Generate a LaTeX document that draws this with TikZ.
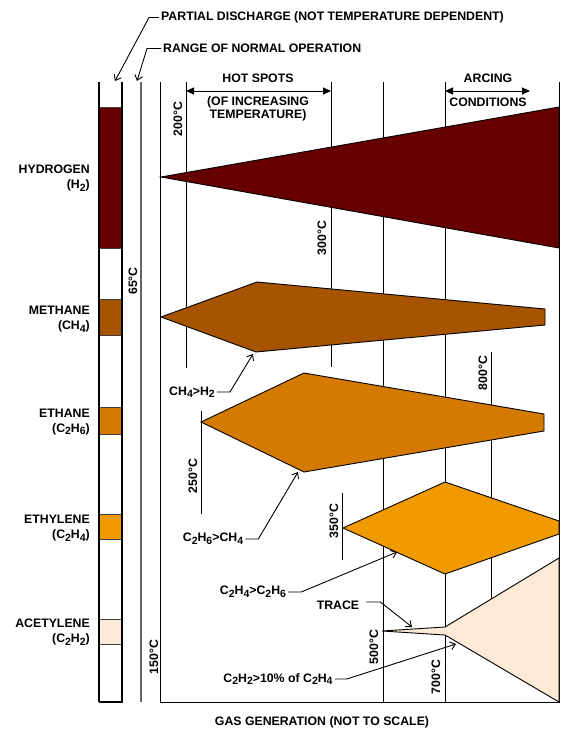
\documentclass[tikz,border=0pt]{standalone}
\usepackage{fontspec}
\setmainfont{Liberation Sans}
\usepackage{tikz}
\usetikzlibrary{arrows.meta}

\definecolor{hydro}{HTML}{660000}
\definecolor{meth}{HTML}{A65400}
\definecolor{eth}{HTML}{D47A00}
\definecolor{ethy}{HTML}{F09A00}
\definecolor{acet}{HTML}{FCE9D6}
\newcommand{\dn}[1]{\raisebox{-0.4ex}{\fontsize{10.5}{12}\selectfont #1}}

\begin{document}
\begin{tikzpicture}[x=1pt,y=-1pt,>={Straight Barb[length=5pt,width=8pt]},
		every node/.style={font=\bfseries\fontsize{12.3}{15}\selectfont,inner sep=2pt},
		gas/.style={anchor=east,align=right},
		temp/.style={rotate=90},
		lead/.style={->,line width=0.9pt},
		span/.style={{Triangle[length=8pt,width=7pt]}-{Triangle[length=8pt,width=7pt]},line width=0.9pt},
		shp/.style={draw=black,line width=0.9pt},
		grid/.style={line width=1pt}]
	\useasboundingbox (0,0) rectangle (563,729);

	% the bar on the left
	\fill[hydro] (99,107) rectangle (122,248);
	\fill[meth]  (99,299) rectangle (122,335);
	\fill[eth]   (99,407) rectangle (122,434);
	\fill[ethy]  (99,514) rectangle (122,539);
	\fill[acet]  (99,619) rectangle (122,644);
	\foreach \y in {107,248,299,335,407,434,514,539,619,644}
		\draw[black!75,line width=1pt] (99,\y) -- (122,\y);
	\draw[line width=2pt] (99,82) -- (99,702);
	\draw[line width=1.2pt] (99,702) -- (122,702) -- (122,82);
	\draw[black!60,line width=1.5pt] (141,82) -- (141,702);

	% axes and temperature lines
	\draw[grid] (160,82) -- (160,702) -- (559,702) -- (559,82);
	\draw[grid] (186,82) -- (186,368);
	\draw[grid] (331,82) -- (331,367);
	\draw[grid] (383,82) -- (383,702);
	\draw[grid] (445,82) -- (445,702);
	\draw[grid] (201,411) -- (201,514);
	\draw[grid] (342,493) -- (342,560);
	\draw[grid] (491,352) -- (491,620);

	% gas shapes
	\filldraw[shp,fill=hydro] (161,177) -- (559,107) -- (559,248) -- cycle;
	\filldraw[shp,fill=meth]  (161,317) -- (257,282) -- (545,309) -- (545,325) -- (256,352) -- cycle;
	\filldraw[shp,fill=eth]   (201,422) -- (304,373) -- (544,414) -- (544,431) -- (304,472) -- cycle;
	\filldraw[shp,fill=ethy]  (343,528) -- (445,482) -- (559,521) -- (559,534) -- (445,574) -- cycle;
	\filldraw[shp,fill=acet]  (382,631) -- (445,627) -- (559,558) -- (559,702) -- (445,635) -- cycle;

	% gases
	\node[gas] (h2)   at (92,178) {HYDROGEN\\(H\dn{2})};
	\node[gas] (ch4)  at (92,319) {METHANE\\(CH\dn{4})};
	\node[gas] (c2h6) at (92,422) {ETHANE\\(C\dn{2}H\dn{6})};
	\node[gas] (c2h4) at (92,528) {ETHYLENE\\(C\dn{2}H\dn{4})};
	\node[gas] (c2h2) at (92,632) {ACETYLENE\\(C\dn{2}H\dn{2})};

	% temperatures
	\node[temp] (t65)  at (133,281) {65°C};
	\node[temp] (t150) at (154,657) {150°C};
	\node[temp] (t200) at (178,119) {200°C};
	\node[temp] (t250) at (193,476) {250°C};
	\node[temp] (t300) at (322,238) {300°C};
	\node[temp] (t350) at (334,521) {350°C};
	\node[temp] (t500) at (374,647) {500°C};
	\node[temp] (t700) at (436,677) {700°C};
	\node[temp] (t800) at (483,373) {800°C};

	% headings
	\node (hot)  at (258,78)  {HOT SPOTS};
	\node[align=center,font=\bfseries\fontsize{12.3}{12.6}\selectfont] (incr) at (258,109) {(OF INCREASING\\TEMPERATURE)};
	\node (arc)  at (488,78)  {ARCING};
	\node (cond) at (488,102) {CONDITIONS};
	\node (gen)  at (322,722) {GAS GENERATION (NOT TO SCALE)};
	\coordinate (hs1) at (186,91);
	\coordinate (hs2) at (331,91);
	\coordinate (ac1) at (445,91);
	\coordinate (ac2) at (530,91);
	\draw[span] (hs1) -- (hs2);
	\draw[span] (ac1) -- (ac2);

	% leaders
	\node[anchor=west] (pd)  at (159,17.5) {PARTIAL DISCHARGE (NOT TEMPERATURE DEPENDENT)};
	\node[anchor=west] (rng) at (161,48.5) {RANGE OF NORMAL OPERATION};
	\node (ch4h2)  at (192,392) {CH\dn{4}>H\dn{2}};
	\node (c2h6r)  at (213,539) {C\dn{2}H\dn{6}>CH\dn{4}};
	\node (c2h4r)  at (253,592) {C\dn{2}H\dn{4}>C\dn{2}H\dn{6}};
	\node (trace)  at (338,605) {TRACE};
	\node (c2h2r)  at (278,679) {C\dn{2}H\dn{2}>10\% of C\dn{2}H\dn{4}};

	\coordinate (pdtip)   at (115,81);
	\coordinate (rngtip)  at (137,81);
	\coordinate (ch4tip)  at (253,354);
	\coordinate (c2h6tip) at (298,472);
	\coordinate (c2h4tip) at (397,552);
	\coordinate (trtip)   at (412,627);
	\coordinate (c2h2tip) at (456,644);

	\draw[lead] (pd.west) -- ++(-10,0) -- (pdtip);
	\draw[lead] (rng.west) -- ++(-14,0) -- (rngtip);
	\draw[lead] (ch4h2.east) -- ++(13,0) -- (ch4tip);
	\draw[lead] (c2h6r.east) -- ++(13,0) -- (c2h6tip);
	\draw[lead] (c2h4r.east) -- ++(13,0) -- (c2h4tip);
	\draw[lead] ([yshift=3pt,xshift=5pt]trace.east) -- ++(14,0) -- (trtip);
	\draw[lead] (c2h2r.east) -- ++(12,0) -- (c2h2tip);
\end{tikzpicture}
\end{document}
